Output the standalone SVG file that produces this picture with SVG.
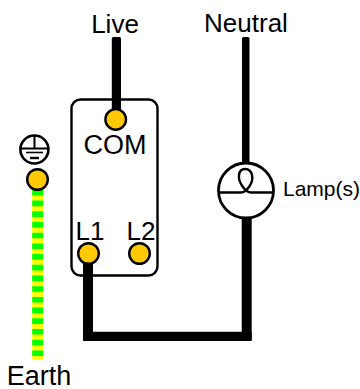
<svg xmlns="http://www.w3.org/2000/svg" width="360" height="389" viewBox="0 0 360 389">
<style>
text{font-family:"Liberation Sans",Arial,sans-serif;fill:#000}
.t{font-size:27px}
.ter{fill:#ffc800;stroke:#000;stroke-width:2.400}
.s{fill:none;stroke:#000}
.w{fill:#000}
</style>
<rect width="360" height="389" fill="#fff"/>
<g id="connectors">
<rect class="w" x="111.800" y="37" width="9.200" height="84" rx="1.500"/>
<rect class="w" x="242" y="37" width="7.500" height="130" rx="1.500"/>
<rect class="w" x="241.700" y="214" width="10" height="127" rx="1.500"/>
<rect class="w" x="83" y="331.700" width="168.700" height="9.300" rx="1.500"/>
<rect class="w" x="83" y="254" width="10" height="87" rx="1.500"/>
<path d="M37.700 180V359.700" fill="none" stroke="#ffff00" stroke-width="11"/>
<path d="M37.700 180V359.700" fill="none" stroke="#00ff00" stroke-width="11" stroke-dasharray="5.600 5.100" stroke-dashoffset="0.800"/>
</g>
<g id="switch">
<rect x="71.500" y="99.500" width="86" height="176" rx="9" fill="none" stroke="#000" stroke-width="2.400"/>
<circle class="ter" cx="115.700" cy="119.400" r="10.300"/>
<text class="t" x="115" y="154" text-anchor="middle">COM</text>
<text x="90" y="240" text-anchor="middle" font-size="26">L1</text>
<text x="141" y="240" text-anchor="middle" font-size="26">L2</text>
<circle class="ter" cx="88.500" cy="253.500" r="10.300"/>
<circle class="ter" cx="139.500" cy="253.500" r="10.300"/>
</g>
<g id="earth">
<circle class="s" cx="34.400" cy="149.500" r="14" stroke-width="2.600"/>
<path class="s" stroke-width="2" d="M20 148.500H49M34.500 135V148.500"/>
<path class="s" stroke-width="1.600" d="M26 152.500H43"/>
<path class="s" stroke-width="2.400" d="M30 158H39"/>
<circle class="ter" cx="37.500" cy="179.500" r="10.300"/>
<text class="t" x="39" y="384.500" text-anchor="middle">Earth</text>
</g>
<g id="lamp">
<circle cx="246" cy="190.500" r="27.500" fill="#fff" stroke="#000" stroke-width="2.800"/>
<path class="s" stroke-width="2.400" d="M219 192.500H241C246 192.500 254 183 252 175C250 167 240 167 239 175C238 183 246 192.500 251 192.500H274"/>
<text x="283" y="196" font-size="21">Lamp(s)</text>
</g>
<g id="live"><text class="t" x="115" y="33" font-size="26" style="font-size:26px" text-anchor="middle">Live</text></g>
<g id="neutral"><text class="t" x="246" y="32" style="font-size:26px" text-anchor="middle">Neutral</text></g>
</svg>
